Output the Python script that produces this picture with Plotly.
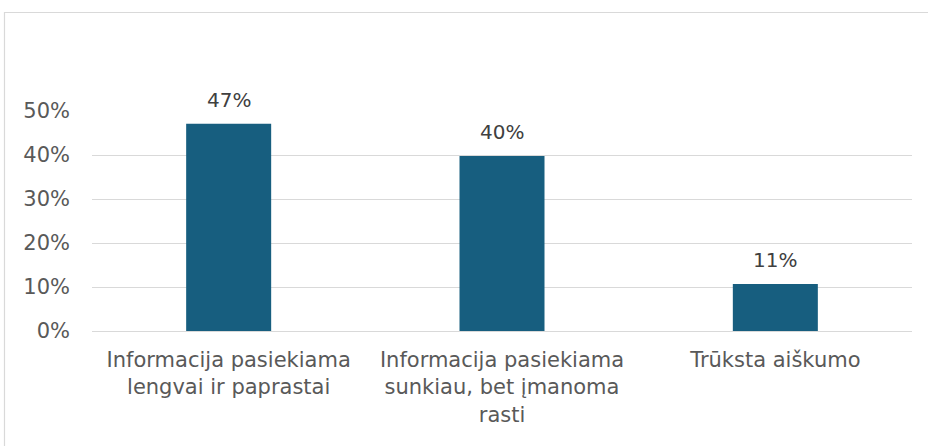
import plotly.graph_objects as go

categories = ["Informacija pasiekiama<br>lengvai ir paprastai",
              "Informacija pasiekiama<br>sunkiau, bet įmanoma<br>rasti",
              "Trūksta aiškumo"]
shares = [0.471, 0.398, 0.107]
share_labels = ["47%", "40%", "11%"]
y_ticks = [0, 0.1, 0.2, 0.3, 0.4, 0.5]
y_tick_labels = ["0%", "10%", "20%", "30%", "40%", "50%"]

W, H = 928, 446
L, R, T, B = 92, 16, 111, 115
FONT = "DejaVu Sans, Open Sans"

fig = go.Figure()
fig.add_trace(go.Bar(
    x=categories,
    y=shares,
    marker=dict(color="#175E7F", line=dict(width=0)),
    width=0.311,
    hoverinfo="skip",
))

# data labels above the bars
for cat, val, lab in zip(categories, shares, share_labels):
    fig.add_annotation(x=cat, y=val, text=lab, showarrow=False,
                       yanchor="bottom", yshift=10,
                       font=dict(family=FONT, size=20, color="#404040"))

# outer frame of the chart area (px -> paper coords)
def px_x(px):
    return (px - L) / (W - L - R)

def px_y(py):
    return (H - B - py) / (H - T - B)

fig.add_shape(type="rect", xref="paper", yref="paper",
              x0=px_x(4.5), x1=px_x(940), y0=px_y(470), y1=px_y(12.5),
              line=dict(color="#D9D9D9", width=1.2), fillcolor="rgba(0,0,0,0)",
              layer="below")

fig.update_layout(
    width=W, height=H,
    margin=dict(l=L, r=R, t=T, b=B),
    paper_bgcolor="white", plot_bgcolor="white",
    showlegend=False,
    font=dict(family=FONT, color="#595959", size=21),
)
fig.update_xaxes(
    showline=False, showgrid=False, ticks="",
    tickfont=dict(family=FONT, size=21, color="#595959"),
    ticklabelstandoff=14,
)
fig.update_yaxes(
    range=[0, 0.5], tickvals=y_ticks, ticktext=y_tick_labels,
    showgrid=True, gridcolor="#D9D9D9", gridwidth=1.2,
    zeroline=True, zerolinecolor="#D9D9D9", zerolinewidth=1.2,
    showline=False, ticks="",
    tickfont=dict(family=FONT, size=21, color="#595959"),
    ticklabelstandoff=21,
)

# drop the default page margin so the figure sits at the window's corner
fig.write_html("out.html", config={"displayModeBar": False},
               post_script="document.body.style.margin='0';")
